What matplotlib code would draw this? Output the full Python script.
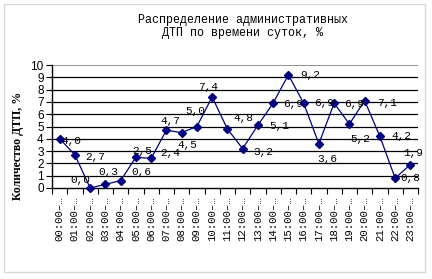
import matplotlib
matplotlib.use("Agg")
import matplotlib.pyplot as plt
from matplotlib.patches import Rectangle

hours = ["00:00–…", "01:00–…", "02:00–…", "03:00–…", "04:00–…", "05:00–…",
         "06:00–…", "07:00–…", "08:00–…", "09:00–…", "10:00–…", "11:00–…",
         "12:00–…", "13:00–…", "14:00–…", "15:00–…", "16:00–…", "17:00–…",
         "18:00–…", "19:00–…", "20:00–…", "21:00–…", "22:00–…", "23:00–…"]
values = [4.0, 2.7, 0.0, 0.3, 0.6, 2.5, 2.4, 4.7, 4.5, 5.0, 7.4, 4.8,
          3.2, 5.1, 6.9, 9.2, 6.9, 3.6, 6.9, 5.2, 7.1, 4.2, 0.8, 1.9]
value_labels = ["4,0", "2,7", "0,0", "0,3", "0,6", "2,5", "2,4", "4,7", "4,5", "5,0", "7,4", "4,8",
                "3,2", "5,1", "6,9", "9,2", "6,9", "3,6", "6,9", "5,2", "7,1", "4,2", "0,8", "1,9"]
# label offsets in pixels (dx right, dy up)
label_offsets = [(12, -2), (20, -2), (-10, 8), (3, 12), (21, 9), (6, 6), (19, 5), (4, 9),
                 (6, -12), (-2, 16), (-4, 10), (16, 11), (21, -3), (21, -1), (20, -1), (22, 0),
                 (20, 0), (8, -15), (20, -1), (11, -15), (22, -2), (22, 0), (15, 0), (3, 12)]

W, H = 432, 279
fig = plt.figure(figsize=(W / 100, H / 100), dpi=100)
fig.patches.append(Rectangle((4 / W, 1 - 272 / H), 421 / W, 268 / H, transform=fig.transFigure,
                             fill=False, edgecolor="#d9d9d9", linewidth=1))

ax = fig.add_axes([52 / W, 1 - 188 / H, (418 - 52) / W, (188 - 65) / H])
x = list(range(len(values)))
ax.plot(x, values, color="#000080", linewidth=0.9, marker="D", markersize=4.5,
        markerfacecolor="#000080", markeredgecolor="#000080", zorder=3, clip_on=False)

for xi, v, lab, (dx, dy) in zip(x, values, value_labels, label_offsets):
    ax.annotate(lab, (xi, v), xytext=(dx, dy), textcoords="offset pixels",
                ha="center", va="center", fontsize=8, family="Liberation Mono", zorder=4)

ax.set_xlim(-0.5, 23.5)
ax.set_ylim(0, 10)
ax.set_yticks(range(0, 11))
ax.set_yticklabels([str(i) for i in range(0, 11)], fontsize=8.5, family="Liberation Sans")
for yv in range(1, 10):
    ax.axhline(yv, color="black", linewidth=0.9, zorder=1)
ax.axhline(10, color="#808080", linewidth=1.2, zorder=1)

ax.set_xticks(x)
ax.set_xticklabels(hours, rotation=90, fontsize=7.7, family="Liberation Mono", va="top", ha="center")
ax.set_xticks([i - 0.5 for i in range(25)], minor=True)
ax.tick_params(axis="x", which="major", length=0, pad=6)
ax.tick_params(axis="x", which="minor", length=4, width=0.8, direction="out")
ax.tick_params(axis="y", length=4, width=0.8, direction="out", pad=2)

for s in ["top", "right"]:
    ax.spines[s].set_visible(False)
ax.spines["left"].set_color("black")
ax.spines["bottom"].set_color("black")
ax.spines["left"].set_linewidth(1)
ax.spines["bottom"].set_linewidth(1)

fig.text(243 / W, 1 - 20 / H, "Распределение административных", ha="center", va="center",
         fontsize=8.4, family="Liberation Mono")
fig.text(243 / W, 1 - 33 / H, "ДТП по времени суток, %", ha="center", va="center",
         fontsize=8.4, family="Liberation Mono")
fig.text(18 / W, 1 - 146 / H, "Количество ДТП, %", rotation=90, ha="center", va="center",
         fontsize=8.5, family="Liberation Serif", fontweight="bold")

fig.savefig("out.png", dpi=100)
